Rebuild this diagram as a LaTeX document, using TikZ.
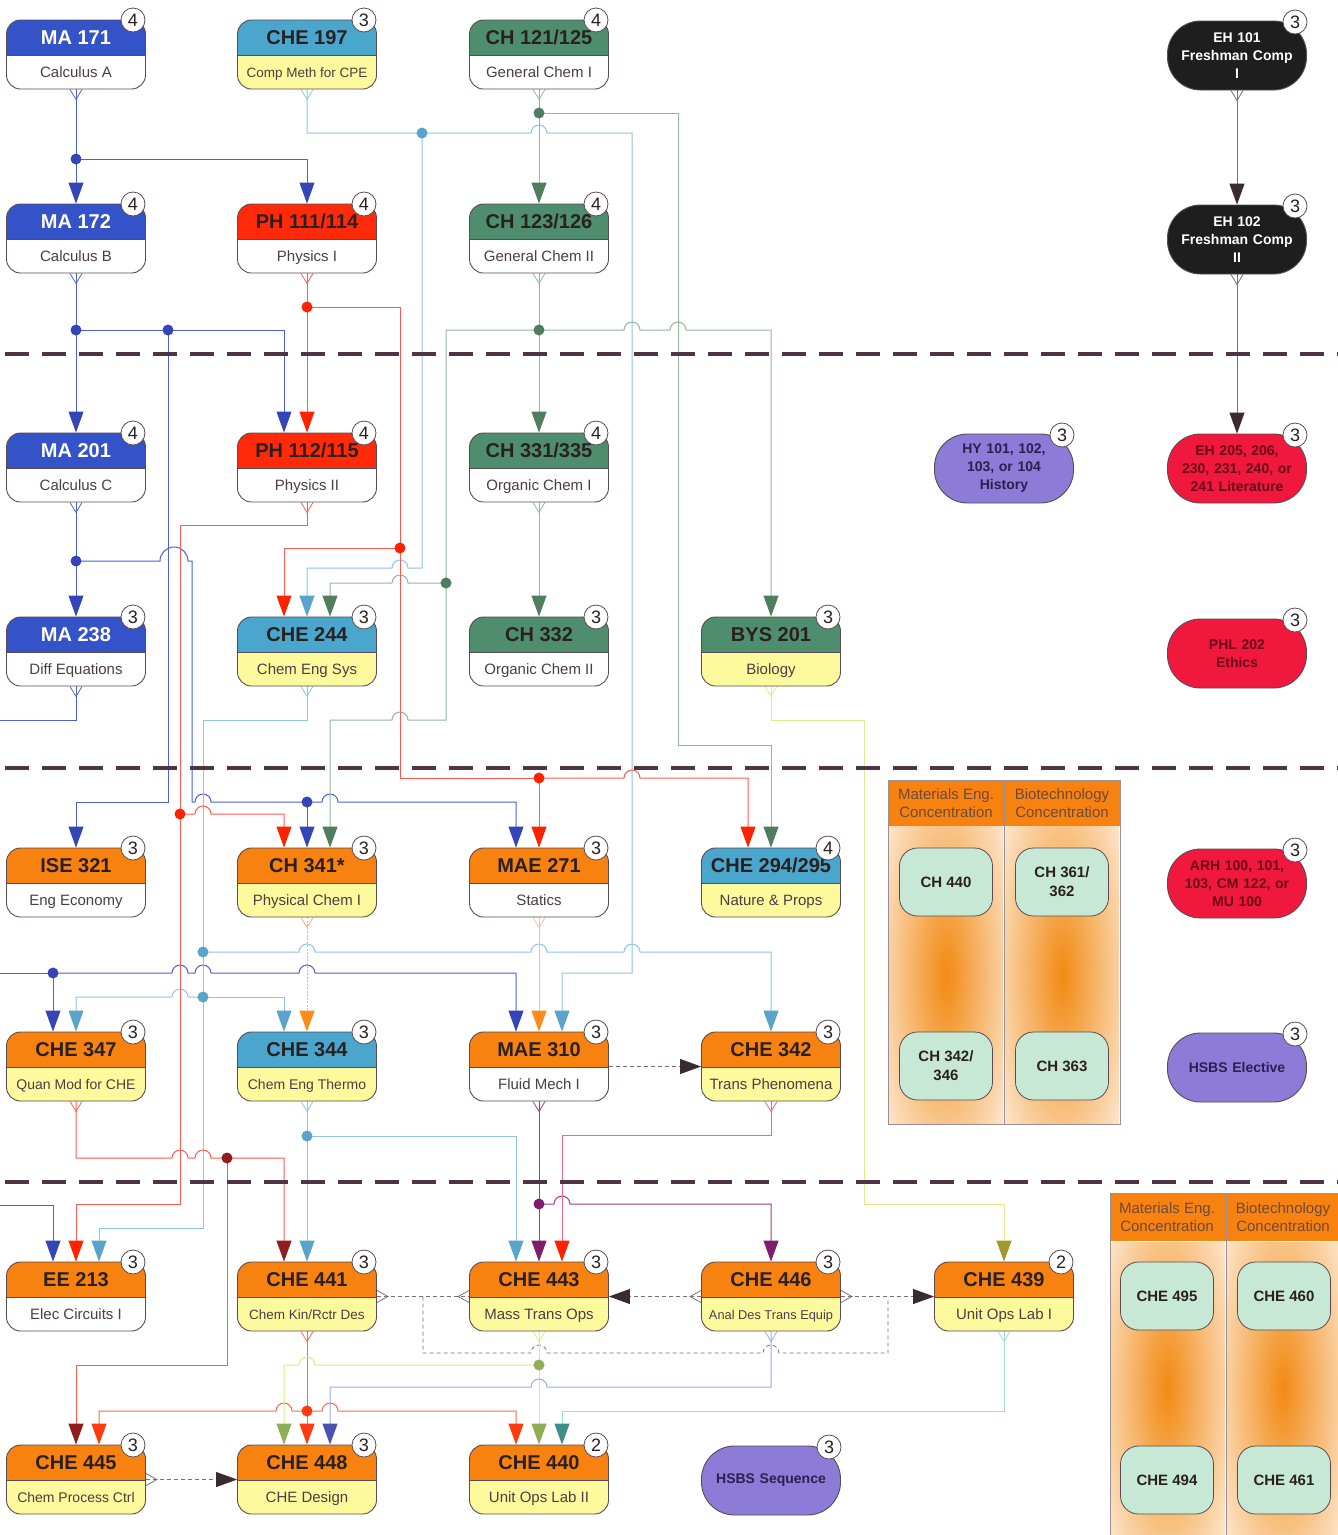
\documentclass[tikz,border=0pt]{standalone}
\usepackage{fontspec}
\setmainfont{Liberation Sans}
\usetikzlibrary{arrows.meta}
\definecolor{boxline}{HTML}{5A4A52}
\definecolor{boxgrey}{HTML}{9A9094}
\definecolor{hBlue}{HTML}{3553C8}
\definecolor{hTeal}{HTML}{4AA6CC}
\definecolor{hGreen}{HTML}{4E8E6E}
\definecolor{hRed}{HTML}{FF2A0A}
\definecolor{hOrange}{HTML}{F7820F}
\definecolor{bYellow}{HTML}{FDFA9E}
\definecolor{txtDark}{HTML}{2A2020}
\definecolor{txtBody}{HTML}{4A3E44}
\definecolor{pBlack}{HTML}{1E1E1E}
\definecolor{pPurple}{HTML}{8C7CD8}
\definecolor{pRed}{HTML}{F0183C}
\definecolor{tRed}{HTML}{6A0A18}
\definecolor{tPurple}{HTML}{2A2050}
\definecolor{mint}{HTML}{C8E8D6}
\definecolor{sepCol}{HTML}{4E3444}
\definecolor{glow}{HTML}{F28A14}
\definecolor{concTxt}{HTML}{6E4A3A}
\definecolor{lBlue}{HTML}{4A62D6}  \definecolor{aBlue}{HTML}{3445B8}
\definecolor{lLB}{HTML}{8CC6E8}    \definecolor{aLB}{HTML}{5AA4CC}
\definecolor{lGreen}{HTML}{8DBA9C} \definecolor{aGreen}{HTML}{4E7E5E}
\definecolor{lRed}{HTML}{FF5A50}   \definecolor{aRed}{HTML}{FF2200}
\definecolor{aDRed}{HTML}{8E1E1E}
\definecolor{lOr}{HTML}{F2B070}    \definecolor{aOr}{HTML}{FF8A1A}
\definecolor{lOrB}{HTML}{F4BCA8}
\definecolor{lPu}{HTML}{A8388C}    \definecolor{aPu}{HTML}{7E1E6A}
\definecolor{lPk}{HTML}{F2648E}
\definecolor{lYe}{HTML}{E6E68A}    \definecolor{aOl}{HTML}{A09A2E}
\definecolor{lYG}{HTML}{E0EC7A}    \definecolor{aYG}{HTML}{8EAE58}
\definecolor{lSB}{HTML}{98AAF0}    \definecolor{aSB}{HTML}{4A52B0}
\definecolor{lTe}{HTML}{A6DAD4}    \definecolor{aTe}{HTML}{3E8E88}
\definecolor{lRO}{HTML}{FF6A48}    \definecolor{aRO}{HTML}{FF3A10}
\definecolor{lGy}{HTML}{7A7076}    \definecolor{aK}{HTML}{3A2A32}
\pgfdeclarelayer{bg}\pgfdeclarelayer{wires}
\pgfsetlayers{bg,wires,main}
\tikzset{
 course/.style 2 args={rectangle, rounded corners=14pt, draw=boxline, line width=0.9pt,
   minimum width=139pt, minimum height=69pt, inner sep=0pt, fill=#2,
   path picture={\fill[#1, sharp corners] (path picture bounding box.north west) rectangle ([yshift=-0.5pt]path picture bounding box.east);
     \draw[boxline, line width=0.7pt, sharp corners] ([yshift=-0.5pt]path picture bounding box.west) -- ([yshift=-0.5pt]path picture bounding box.east);}},
 hdrtxt/.style={font=\fontsize{20}{22}\selectfont\bfseries, inner sep=0pt, anchor=base},
 bodytxt/.style={font=\fontsize{15}{17}\selectfont, text=txtBody, inner sep=0pt, anchor=base},
 badge/.style={circle, draw=boxline, fill=white, line width=0.8pt, minimum size=24pt, inner sep=0pt, font=\fontsize{18}{18}\selectfont, text=txtDark},
 pill/.style={rectangle, rounded corners=33pt, draw=boxline, line width=0.9pt, minimum width=139pt, minimum height=69pt, inner sep=0pt, text width=135pt, align=center, fill=#1, font=\fontsize{14}{18}\selectfont\bfseries},
 conc/.style={rectangle, rounded corners=18pt, draw=boxline, line width=0.8pt, fill=mint, minimum width=93pt, minimum height=68pt, inner sep=0pt, align=center, font=\fontsize{15}{19}\selectfont\bfseries, text=txtDark},
 conchdr/.style={font=\fontsize{15}{18}\selectfont, text=concTxt, align=center, inner sep=0pt},
 wire/.style={line width=1pt, draw=#1},
 atip/.style={-{Triangle[width=15pt,length=21pt,color=#1]}},
 coreq/.style={line width=0.8pt, draw=lGy, dash pattern=on 4pt off 3pt},
}
\newcommand\course[9]{%
  \node[course={#6}{#7}] (#1) at (#2,#3+34.5) {};
  \node[hdrtxt, text=#8] (#1-h) at (#2,#3+24.5) {#4};
  \node[bodytxt] (#1-b) at (#2,#3+57.5) {#5};
  \node[badge] (#1-n) at (#2+57,#3) {#9};
}
\newcommand\pillnode[7]{%
  \node[pill=#5, text=#6] (#1) at (#2,#3+34.5) {#4};
  \node[badge] (#1-n) at (#2+58,#3+1) {#7};
}
\newcommand\hopR[2]{-- ({#1-8},#2) arc[start angle=180,end angle=0,radius=8pt]}
\newcommand\hopL[2]{-- ({#1+8},#2) arc[start angle=0,end angle=180,radius=8pt]}
\newcommand\srcd[2]{\draw[#2, line width=0.8pt] ([xshift=-6pt]#1.south) -- ++(6,10) -- ++(6,-10);}
\newcommand\srcr[2]{\draw[#2, line width=0.8pt] ([yshift=6pt]#1.east) -- ++(11,6) -- ++(-11,6);}
\newcommand\srcl[2]{\draw[#2, line width=0.8pt] ([yshift=6pt]#1.west) -- ++(-11,6) -- ++(11,6);}
\newcommand\fs[1]{\fontsize{#1}{#1}\selectfont}
\begin{document}
\begin{tikzpicture}[x=1pt,y=-1pt]
\useasboundingbox (0,0) rectangle (1338,1535);

% ---------- course nodes ----------
\course{ma171}{76}{20}{MA 171}{Calculus A}{hBlue}{white}{white}{4}
\course{che197}{307}{20}{CHE 197}{\fs{13.5}Comp Meth for CPE}{hTeal}{bYellow}{txtDark}{3}
\course{ch121}{539}{20}{CH 121/125}{General Chem I}{hGreen}{white}{txtDark}{4}
\pillnode{eh101}{1237}{21}{EH 101\\Freshman Comp\\I}{pBlack}{white}{3}

\course{ma172}{76}{204}{MA 172}{Calculus B}{hBlue}{white}{white}{4}
\course{ph111}{307}{204}{PH 111/114}{Physics I}{hRed}{white}{txtDark}{4}
\course{ch123}{539}{204}{CH 123/126}{General Chem II}{hGreen}{white}{txtDark}{4}
\pillnode{eh102}{1237}{205}{EH 102\\Freshman Comp\\II}{pBlack}{white}{3}

\course{ma201}{76}{433}{MA 201}{Calculus C}{hBlue}{white}{white}{4}
\course{ph112}{307}{433}{PH 112/115}{Physics II}{hRed}{white}{txtDark}{4}
\course{ch331}{539}{433}{CH 331/335}{Organic Chem I}{hGreen}{white}{txtDark}{4}
\pillnode{hy}{1004}{434}{HY 101, 102,\\103, or 104\\History}{pPurple}{tPurple}{3}
\pillnode{eh205}{1237}{434}{EH 205, 206,\\230, 231, 240, or\\241 Literature}{pRed}{tRed}{3}

\course{ma238}{76}{617}{MA 238}{Diff Equations}{hBlue}{white}{white}{3}
\course{che244}{307}{617}{CHE 244}{Chem Eng Sys}{hTeal}{bYellow}{txtDark}{3}
\course{ch332}{539}{617}{CH 332}{Organic Chem II}{hGreen}{white}{txtDark}{3}
\course{bys201}{771}{617}{BYS 201}{Biology}{hGreen}{bYellow}{txtDark}{3}
\pillnode{phl202}{1237}{619}{PHL 202\\Ethics}{pRed}{tRed}{3}

\course{ise321}{76}{848}{ISE 321}{Eng Economy}{hOrange}{white}{txtDark}{3}
\course{ch341}{307}{848}{CH 341*}{Physical Chem I}{hOrange}{bYellow}{txtDark}{3}
\course{mae271}{539}{848}{MAE 271}{Statics}{hOrange}{white}{txtDark}{3}
\course{che294}{771}{848}{CHE 294/295}{Nature \& Props}{hTeal}{bYellow}{txtDark}{4}
\pillnode{arh}{1237}{849}{ARH 100, 101,\\103, CM 122, or\\MU 100}{pRed}{tRed}{3}

\course{che347}{76}{1032}{CHE 347}{\fs{14}Quan Mod for CHE}{hOrange}{bYellow}{txtDark}{3}
\course{che344}{307}{1032}{CHE 344}{\fs{14}Chem Eng Thermo}{hTeal}{bYellow}{txtDark}{3}
\course{mae310}{539}{1032}{MAE 310}{Fluid Mech I}{hOrange}{white}{txtDark}{3}
\course{che342}{771}{1032}{CHE 342}{Trans Phenomena}{hOrange}{bYellow}{txtDark}{3}
\pillnode{hsbse}{1237}{1033}{HSBS Elective}{pPurple}{tPurple}{3}

\course{ee213}{76}{1262}{EE 213}{Elec Circuits I}{hOrange}{white}{txtDark}{3}
\course{che441}{307}{1262}{CHE 441}{\fs{13.5}Chem Kin/Rctr Des}{hOrange}{bYellow}{txtDark}{3}
\course{che443}{539}{1262}{CHE 443}{Mass Trans Ops}{hOrange}{bYellow}{txtDark}{3}
\course{che446}{771}{1262}{CHE 446}{\fs{12.8}Anal Des Trans Equip}{hOrange}{bYellow}{txtDark}{3}
\course{che439}{1004}{1262}{CHE 439}{Unit Ops Lab I}{hOrange}{bYellow}{txtDark}{2}

\course{che445}{76}{1445}{CHE 445}{\fs{14}Chem Process Ctrl}{hOrange}{bYellow}{txtDark}{3}
\course{che448}{307}{1445}{CHE 448}{CHE Design}{hOrange}{bYellow}{txtDark}{3}
\course{che440}{539}{1445}{CHE 440}{Unit Ops Lab II}{hOrange}{bYellow}{txtDark}{2}
\pillnode{hsbss}{771}{1446}{HSBS Sequence}{pPurple}{tPurple}{3}

% ---------- concentration boxes ----------
\begin{pgfonlayer}{bg}
\fill[white] (0,0) rectangle (1338,1535);
\begin{scope}
\clip (889,826) rectangle (1003,1123);
\shade[inner color=glow, outer color=white] (851,675) rectangle (1041,1275);
\end{scope}
\begin{scope}
\clip (1005,826) rectangle (1119,1123);
\shade[inner color=glow, outer color=white] (967,675) rectangle (1157,1275);
\end{scope}
\begin{scope}
\clip (1111,1242) rectangle (1225,1535);
\shade[inner color=glow, outer color=white] (1072,1088) rectangle (1262,1688);
\end{scope}
\begin{scope}
\clip (1227,1242) rectangle (1338,1535);
\shade[inner color=glow, outer color=white] (1188,1088) rectangle (1378,1688);
\end{scope}
\fill[hOrange] (888,780) rectangle (1120,826);
\draw[boxgrey, line width=0.9pt] (888,780) rectangle (1120,1124);
\draw[boxgrey, line width=0.9pt] (1004,780) -- (1004,1124);
\fill[hOrange] (1110,1193) rectangle (1338,1241);
\draw[boxgrey, line width=0.9pt] (1110,1535) -- (1110,1193) -- (1338,1193);
\draw[boxgrey, line width=0.9pt] (1226,1193) -- (1226,1535);
\end{pgfonlayer}
\node[conchdr] (mathdrA) at (946,803) {Materials Eng.\\Concentration};
\node[conchdr] (biohdrA) at (1062,803) {Biotechnology\\Concentration};
\node[conchdr] (mathdrB) at (1167,1217) {Materials Eng.\\Concentration};
\node[conchdr] (biohdrB) at (1283,1217) {Biotechnology\\Concentration};
\node[conc] (ch440) at (946,882) {CH 440};
\node[conc] (ch361) at (1062,882) {CH 361/\\362};
\node[conc] (ch342) at (946,1066) {CH 342/\\346};
\node[conc] (ch363) at (1062,1066) {CH 363};
\node[conc] (che495) at (1167,1296) {CHE 495};
\node[conc] (che460) at (1284,1296) {CHE 460};
\node[conc] (che494) at (1167,1480) {CHE 494};
\node[conc] (che461) at (1284,1480) {CHE 461};

% ---------- connectors ----------
\begin{pgfonlayer}{wires}
\coordinate (j1) at (76,159);
\coordinate (j2) at (422,133);
\coordinate (j3) at (539,113);
\coordinate (j4) at (539,330);
\coordinate (j5) at (446,583);
\coordinate (j6) at (76,330);
\coordinate (j7) at (168,330);
\coordinate (j8) at (76,561);
\coordinate (j9) at (307,802);
\coordinate (j10) at (53,973);
\coordinate (j11) at (307,307);
\coordinate (j12) at (400,548);
\coordinate (j13) at (539,778);
\coordinate (j14) at (180,814);
\coordinate (j15) at (203,952);
\coordinate (j16) at (203,997);
\coordinate (j17) at (307,1136);
\coordinate (j18) at (227,1158);
\coordinate (j19) at (539,1204);
\coordinate (j20) at (307,1411);
\coordinate (j21) at (539,1365);
\coordinate (offA) at (0,720);
\coordinate (offB) at (0,973);
\coordinate (offC) at (0,1205);

% blue (math)
\draw[wire=lBlue, atip=aBlue] (ma171.south) -- (ma172.north);
\draw[wire=lBlue, atip=aBlue] (j1) -- (307,159) -- (ph111.north);
\draw[wire=lBlue, atip=aBlue] (ma172.south) -- (ma201.north);
\draw[wire=lBlue, atip=aBlue] (j6) -- (284,330) -- ([xshift=-23pt]ph112.north);
\draw[wire=lBlue, atip=aBlue] (j7) -- (168,802) -- (76,802) -- (ise321.north);
\draw[wire=lBlue, atip=aBlue] (ma201.south) -- (ma238.north);
\draw[wire=lBlue, atip=aBlue] (j8) -- (160,561) arc[start angle=180,end angle=0,radius=14pt] -- (192,561) -- (192,802) \hopR{203}{802} \hopR{330}{802} -- (516,802) -- ([xshift=-23pt]mae271.north);
\draw[wire=lBlue, atip=aBlue] (j9) -- (ch341.north);
\draw[wire=lBlue] (ma238.south) -- (76,720) -- (offA);
\draw[wire=lBlue, atip=aBlue] (offB) -- (j10) -- ([xshift=-23pt]che347.north);
\draw[wire=lBlue, atip=aBlue] (j10) \hopR{180}{973} \hopR{203}{973} \hopR{307}{973} -- (516,973) -- ([xshift=-23pt]mae310.north);
\draw[wire=lBlue, atip=aBlue] (offC) -- (53,1205) -- ([xshift=-23pt]ee213.north);

% light blue
\draw[wire=lLB, atip=aLB] (che197.south) -- (307,133) -- (j2) \hopR{539}{133} -- (632,133) -- (632,973) -- (562,973) -- ([xshift=23pt]mae310.north);
\draw[wire=lLB, atip=aLB] (j2) -- (422,568) \hopL{400}{568} -- (307,568) -- (che244.north);
\draw[wire=lLB, atip=aLB] (che244.south) -- (307,720) -- (203,720) -- (203,1228) -- (99,1228) -- ([xshift=23pt]ee213.north);
\draw[wire=lLB, atip=aLB] (j15) \hopR{307}{952} \hopR{539}{952} \hopR{632}{952} -- (771,952) -- (che342.north);
\draw[wire=lLB, atip=aLB] (j16) \hopL{180}{997} -- (76,997) -- (che347.north);
\draw[wire=lLB, atip=aLB] (j16) -- (284,997) -- ([xshift=-23pt]che344.north);
\draw[wire=lLB, atip=aLB] (che344.south) -- (che441.north);
\draw[wire=lLB, atip=aLB] (j17) -- (516,1136) -- ([xshift=-23pt]che443.north);

% green (chemistry)
\draw[wire=lGreen, atip=aGreen] (ch121.south) -- (ch123.north);
\draw[wire=lGreen, atip=aGreen] (j3) -- (678,113) -- (678,745) -- (771,745) -- (che294.north);
\draw[wire=lGreen, atip=aGreen] (ch123.south) -- (ch331.north);
\draw[wire=lGreen, atip=aGreen] (j4) \hopR{632}{330} \hopR{678}{330} -- (771,330) -- (bys201.north);
\draw[wire=lGreen, atip=aGreen] (j4) -- (446,330) -- (446,720) \hopL{400}{720} -- (330,720) -- ([xshift=23pt]ch341.north);
\draw[wire=lGreen, atip=aGreen] (j5) \hopL{400}{583} -- (330,583) -- ([xshift=23pt]che244.north);
\draw[wire=lGreen, atip=aGreen] (ch331.south) -- (ch332.north);

% red (physics)
\draw[wire=lRed, atip=aRed] (ph111.south) -- (ph112.north);
\draw[wire=lRed, atip=aRed] (j11) -- (400,307) -- (400,778) -- (j13) -- (mae271.north);
\draw[wire=lRed, atip=aRed] (j13) \hopR{632}{778} -- (748,778) -- ([xshift=-23pt]che294.north);
\draw[wire=lRed, atip=aRed] (j12) -- (284,548) -- ([xshift=-23pt]che244.north);
\draw[wire=lRed, atip=aRed] (ph112.south) -- (307,525) -- (180,525) -- (180,1204) -- (76,1204) -- (ee213.north);
\draw[wire=lRed, atip=aRed] (j14) \hopR{203}{814} -- (284,814) -- ([xshift=-23pt]ch341.north);

% CHE 347
\draw[wire=lRed, atip=aDRed] (che347.south) -- (76,1158) \hopR{180}{1158} \hopR{203}{1158} -- (284,1158) -- ([xshift=-23pt]che441.north);
\draw[wire=lRed, atip=aDRed] (j18) -- (227,1365) -- (76,1365) -- (che445.north);

% orange
\draw[line width=1pt, draw=lOr, dash pattern=on 2pt off 1.5pt, atip=aOr] (ch341.south) -- (che344.north);
\draw[wire=lOrB, atip=aOr] (mae271.south) -- (mae310.north);

% purple, pink, yellow
\draw[wire=lPu, atip=aPu] (mae310.south) -- (che443.north);
\draw[wire=lPu, atip=aPu] (j19) \hopR{562}{1204} -- (771,1204) -- (che446.north);
\draw[wire=lPk, atip=aRed] (che342.south) -- (771,1135) -- (562,1135) -- ([xshift=23pt]che443.north);
\draw[wire=lYe, atip=aOl] (bys201.south) -- (771,720) -- (864,720) -- (864,1204) -- (1004,1204) -- (che439.north);

% co-requisites (dashed)
\draw[coreq, atip=aK] (mae310.east) -- (che342.west);
\draw[coreq] (che441.east) -- (che443.west);
\draw[coreq] (423,1296.5) -- (423,1353) \hopR{539}{1353} \hopR{771}{1353} -- (888,1353) -- (888,1296.5);
\draw[coreq, atip=aK] (che446.west) -- (che443.east);
\draw[coreq, atip=aK] (che446.east) -- (che439.west);
\draw[coreq, atip=aK] (che445.east) -- (che448.west);

% senior year
\draw[wire=lRO, atip=aRO] (che441.south) -- (che448.north);
\draw[wire=lRO, atip=aRO] (j20) \hopL{284}{1411} -- (99,1411) -- ([xshift=23pt]che445.north);
\draw[wire=lRO, atip=aRO] (j20) \hopR{330}{1411} -- (516,1411) -- ([xshift=-23pt]che440.north);
\draw[wire=lYG, atip=aYG] (che443.south) -- (che440.north);
\draw[wire=lYG, atip=aYG] (j21) \hopL{307}{1365} -- (284,1365) -- ([xshift=-23pt]che448.north);
\draw[wire=lSB, atip=aSB] (che446.south) -- (771,1387) \hopL{539}{1387} -- (330,1387) -- ([xshift=23pt]che448.north);
\draw[wire=lTe, atip=aTe] (che439.south) -- (1004,1411) -- (562,1411) -- ([xshift=23pt]che440.north);

% English
\draw[wire=lGy, atip=aK] (eh101.south) -- (eh102.north);
\draw[wire=lGy, atip=aK] (eh102.south) -- (eh205.north);

% junction dots
\foreach \p/\c in {j1/aBlue, j6/aBlue, j7/aBlue, j8/aBlue, j9/aBlue, j10/aBlue, j2/aLB, j15/aLB, j16/aLB, j17/aLB, j3/aGreen, j4/aGreen, j5/aGreen, j11/aRed, j12/aRed, j13/aRed, j14/aRed, j18/aDRed, j19/aPu, j20/aRO, j21/aYG}
  \fill[\c] (\p) circle[radius=5.5pt];

% source markers
\srcd{ma171}{lBlue}\srcd{che197}{lLB}\srcd{ch121}{lGreen}
\srcd{ma172}{lBlue}\srcd{ph111}{lRed}\srcd{ch123}{lGreen}
\srcd{ma201}{lBlue}\srcd{ph112}{lRed}\srcd{ch331}{lGreen}
\srcd{ma238}{lBlue}\srcd{che244}{lLB}\srcd{bys201}{lYe}
\srcd{ch341}{lOr}\srcd{mae271}{lOrB}
\srcd{che347}{lRed}\srcd{che344}{lLB}\srcd{mae310}{lPu}\srcd{che342}{lPk}
\srcd{che441}{lRO}\srcd{che443}{lYG}\srcd{che446}{lSB}\srcd{che439}{lTe}
\srcd{eh101}{lGy}\srcd{eh102}{lGy}
\srcr{che441}{lGy}\srcl{che443}{lGy}\srcl{che446}{lGy}\srcr{che446}{lGy}\srcr{che445}{lGy}
\end{pgfonlayer}

% ---------- year separators ----------
\foreach \yy in {354,768,1182}
  \draw[sepCol, line width=3.5pt, dash pattern=on 24pt off 13pt] (5,\yy) -- (1338,\yy);
\end{tikzpicture}
\end{document}
